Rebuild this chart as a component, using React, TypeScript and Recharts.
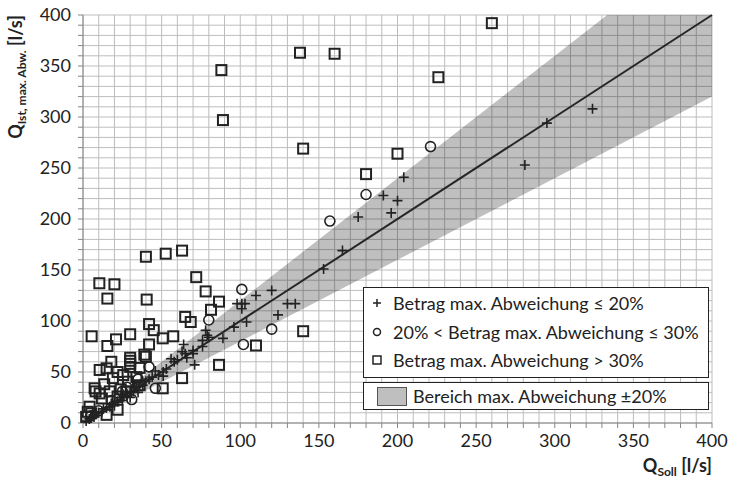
import React from "react";
import {
  ComposedChart,
  Scatter,
  Line,
  Area,
  XAxis,
  YAxis,
  CartesianGrid,
  Label,
} from "recharts";

// Betrag max. Abweichung <= 20 %
const SMALL_X = [324, 295, 281, 204, 191, 200, 196, 175, 165, 153, 120, 110, 98, 101, 103, 101, 130, 135, 124, 104, 96, 78, 79, 80, 89, 76, 64, 76, 70, 63, 65, 70, 71, 56, 51, 46, 51, 2, 4, 5, 7, 8, 10, 12, 13, 15, 17, 18, 20, 22, 24, 26, 28, 30, 32, 34, 36, 38, 40, 42, 44, 48, 53, 58, 30, 20, 25, 35, 60, 66];
const SMALL_Y = [308, 294, 253, 241, 223, 218, 206, 202, 169, 151, 130, 125, 117, 117, 117, 112, 117, 117, 106, 99, 94, 91, 86, 84, 83, 81, 77, 75, 71, 70, 68, 68, 57, 63, 50, 51, 46, 2, 4, 5, 6, 9, 10, 11, 14, 15, 16, 19, 20, 21, 25, 26, 27, 30, 31, 35, 36, 37, 41, 43, 45, 47, 53, 60, 25, 17, 22, 30, 62, 64];

// 20 % < Betrag max. Abweichung <= 30 %
const MID_X = [221, 180, 157, 101, 80, 102, 120, 46, 31, 42, 5, 10, 18, 25, 35, 28];
const MID_Y = [271, 224, 198, 131, 101, 77, 92, 34, 23, 55, 7, 12, 22, 31, 43, 35];

// Betrag max. Abweichung > 30 %
const LARGE_X = [260, 226, 138, 160, 88, 89, 140, 200, 180, 203, 238, 140, 110, 86.5, 72, 63, 52.6, 40, 78, 86.5, 81.4, 65, 68.5, 10.4, 20, 15.5, 40.5, 42, 45, 50.7, 57.4, 30, 21, 15.5, 5.5, 42, 39, 40, 30, 30, 30, 30, 18, 10.6, 15, 22, 19, 34, 7.4, 10.6, 17, 4.2, 2, 5.3, 22, 15, 22, 27.5, 36, 28.6, 63, 50.7, 25.6, 36, 13.5, 8, 12, 3, 24];
const LARGE_Y = [392, 339, 363, 362, 346, 297, 269, 264, 244, 127, 127, 90, 76, 57, 143, 169, 166, 163, 129, 119, 111, 104, 99, 137, 136, 122, 121, 97, 91, 83, 85, 87, 82, 75.5, 85, 77, 67, 65, 55, 58, 61, 64, 60, 52, 53.6, 50, 44, 45, 34, 29, 31, 16, 6, 9.5, 13, 8, 26, 31, 37, 40.5, 44, 34, 47, 54, 38, 31, 24, 11, 33];

// band limits (±20 %) and the 1:1 line
const BAND_X = [0, 1000 / 3, 400];
const BAND_LO = [0, 266.67, 320];
const BAND_HI = [0, 400, 400];
const LINE_X = [0, 400];
const LINE_Y = [0, 400];

const TICKS = Array.from({ length: 41 }, (_, i) => i * 10);

const FONT = "Lato, 'Open Sans', sans-serif";
const INK = "#222";

const toPts = (xs: number[], ys: number[]) => xs.map((x, i) => ({ x, y: ys[i] }));

const smallData = toPts(SMALL_X, SMALL_Y);
const midData = toPts(MID_X, MID_Y);
const largeData = toPts(LARGE_X, LARGE_Y);
const bandData = BAND_X.map((x, i) => ({ x, band: [BAND_LO[i], BAND_HI[i]] }));
const lineData = toPts(LINE_X, LINE_Y);

const Cross = (p: any) => (
  <path
    d={`M${p.cx - 5},${p.cy}H${p.cx + 5}M${p.cx},${p.cy - 5}V${p.cy + 5}`}
    stroke={INK}
    strokeWidth={1.6}
  />
);
const Ring = (p: any) => (
  <circle cx={p.cx} cy={p.cy} r={5} fill="none" stroke={INK} strokeWidth={1.6} />
);
const Box = (p: any) => (
  <rect x={p.cx - 5} y={p.cy - 5} width={10} height={10} fill="none" stroke={INK} strokeWidth={2} />
);

const YTick = ({ x, y, payload }: any) =>
  payload.value % 50 === 0 ? (
    <text x={x - 5} y={y} dy={6} textAnchor="end" fontSize={18} fontFamily={FONT} fill={INK}>
      {payload.value}
    </text>
  ) : (
    <g />
  );

const XTick = ({ x, y, payload }: any) =>
  payload.value % 50 === 0 ? (
    <text x={x} y={y} dy={17} textAnchor="middle" fontSize={18} fontFamily={FONT} fill={INK}>
      {payload.value}
    </text>
  ) : (
    <g />
  );

const legendRow: React.CSSProperties = {
  display: "flex",
  alignItems: "center",
  height: 28.5,
};

function LegendBox() {
  const mark = (el: React.ReactNode) => (
    <svg width={14} height={14} style={{ marginLeft: 6, marginRight: 9 }}>
      {el}
    </svg>
  );
  return (
    <div style={{ position: "absolute", left: 363, top: 287, fontFamily: FONT, fontSize: 18, color: INK }}>
      <div style={{ width: 344, height: 88, border: "1px solid #222", background: "#fff", paddingTop: 1 }}>
        <div style={legendRow}>
          {mark(<path d="M3,7H11M7,3V11" stroke={INK} strokeWidth={1.5} />)}
          Betrag max. Abweichung ≤ 20%
        </div>
        <div style={legendRow}>
          {mark(<circle cx={7} cy={7} r={3.5} fill="none" stroke={INK} strokeWidth={1.5} />)}
          20% &lt; Betrag max. Abweichung ≤ 30%
        </div>
        <div style={legendRow}>
          {mark(<rect x={3} y={3} width={8} height={8} fill="none" stroke={INK} strokeWidth={1.5} />)}
          Betrag max. Abweichung &gt; 30%
        </div>
      </div>
      <div
        style={{
          width: 344,
          height: 26,
          marginTop: 4,
          border: "1px solid #222",
          background: "#fff",
          display: "flex",
          alignItems: "center",
        }}
      >
        <div style={{ width: 28, height: 17, background: "#bfbfbf", border: "1px solid #555", marginLeft: 13, marginRight: 6 }} />
        Bereich max. Abweichung ±20%
      </div>
    </div>
  );
}

export default function App() {
  return (
    <div style={{ position: "fixed", left: 0, top: 0, width: 729, height: 479, background: "#fff" }}>
      <ComposedChart width={729} height={479} margin={{ top: 15, right: 17, bottom: 26, left: 23 }}>
        <CartesianGrid stroke="#bdbdbd" strokeWidth={1} />
        <XAxis
          type="number"
          dataKey="x"
          domain={[0, 400]}
          ticks={TICKS}
          interval={0}
          height={30}
          tick={<XTick />}
          tickSize={5}
          tickLine={{ stroke: "#868686" }}
          axisLine={{ stroke: "#868686" }}
        >
          <Label
            content={() => (
              <text x={712} y={472} textAnchor="end" fontFamily={FONT} fontWeight="bold" fill={INK}>
                <tspan fontSize={18}>Q</tspan>
                <tspan fontSize={12} dy={4}>Soll</tspan>
                <tspan fontSize={18} dy={-4}> [l/s]</tspan>
              </text>
            )}
          />
        </XAxis>
        <YAxis
          type="number"
          domain={[0, 400]}
          ticks={TICKS}
          interval={0}
          width={60}
          tick={<YTick />}
          tickSize={5}
          tickLine={{ stroke: "#868686" }}
          axisLine={{ stroke: "#868686" }}
        >
          <Label
            content={() => (
              <text
                transform="translate(22,77) rotate(-90)"
                textAnchor="middle"
                fontFamily={FONT}
                fontWeight="bold"
                fill={INK}
              >
                <tspan fontSize={18}>Q</tspan>
                <tspan fontSize={12} dy={4}>Ist, max. Abw.</tspan>
                <tspan fontSize={18} dy={-4}> [l/s]</tspan>
              </text>
            )}
          />
        </YAxis>
        <Area
          data={bandData}
          dataKey="band"
          type="linear"
          fill="#000"
          fillOpacity={0.25}
          stroke="none"
          isAnimationActive={false}
        />
        <Line
          data={lineData}
          dataKey="y"
          type="linear"
          stroke="#262626"
          strokeWidth={2}
          dot={false}
          isAnimationActive={false}
        />
        <Scatter data={largeData} dataKey="y" shape={Box} isAnimationActive={false} />
        <Scatter data={midData} dataKey="y" shape={Ring} isAnimationActive={false} />
        <Scatter data={smallData} dataKey="y" shape={Cross} isAnimationActive={false} />
      </ComposedChart>
      <LegendBox />
    </div>
  );
}
